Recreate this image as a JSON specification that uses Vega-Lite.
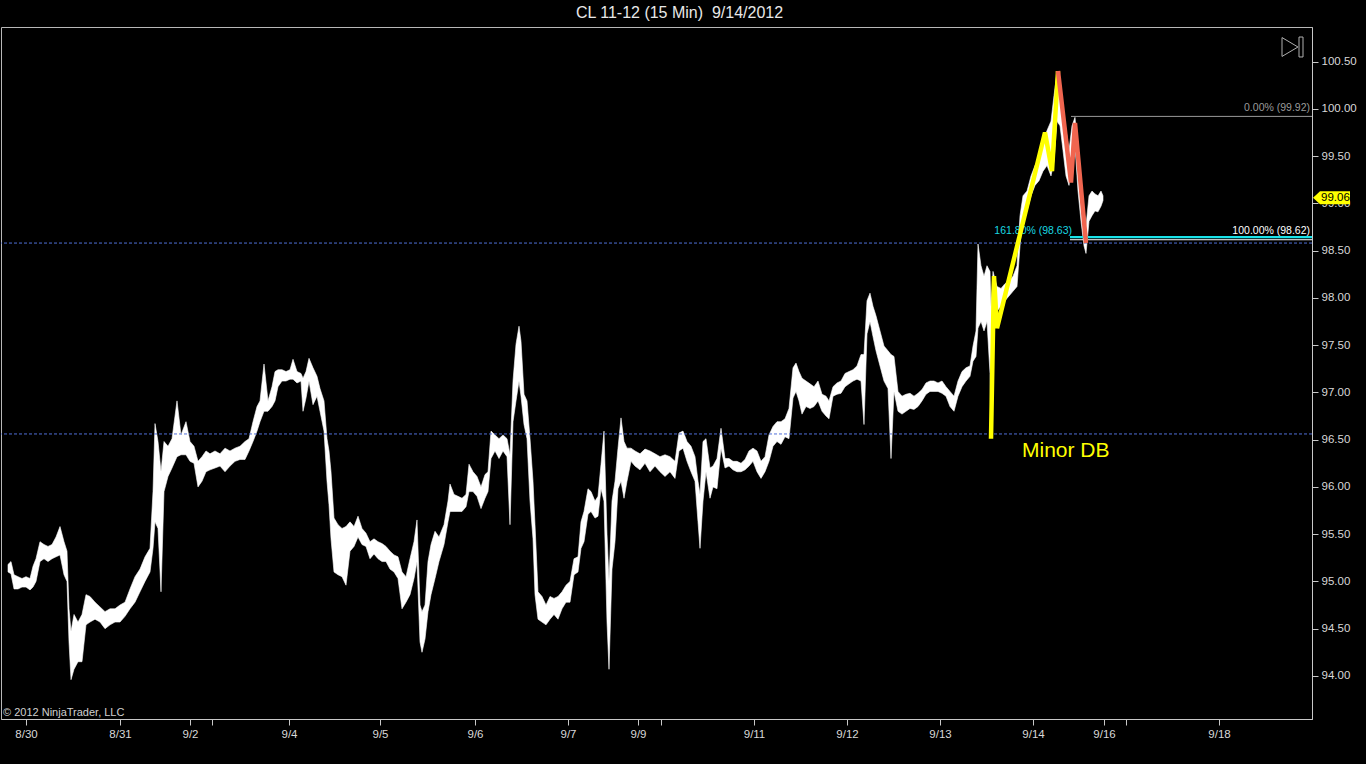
{
  "$schema": "https://vega.github.io/schema/vega-lite/v6.json",
  "autosize": {"type": "none"},
  "width": 1311,
  "height": 692,
  "padding": {"left": 1, "top": 27, "right": 54, "bottom": 45},
  "background": "#000000",
  "config": {
    "view": {"stroke": "#b8b8b8", "strokeWidth": 1},
    "font": "Liberation Sans"
  },
  "title": {
    "text": "CL 11-12 (15 Min)\u00a0 9/14/2012",
    "color": "#e8e8e8",
    "fontSize": 16,
    "font": "Liberation Sans",
    "fontWeight": "normal",
    "anchor": "middle",
    "frame": "group",
    "offset": 6,
    "dx": 23
  },
  "datasets": {
    "price": [
      {"i":8,"lo":95.10,"hi":95.18},{"i":11,"lo":95.08,"hi":95.21},{"i":14,"lo":94.92,"hi":95.07},{"i":18,"lo":94.92,"hi":95.05},
      {"i":22,"lo":94.94,"hi":95.03},{"i":26,"lo":94.94,"hi":95.05},{"i":30,"lo":94.91,"hi":95.03},{"i":33,"lo":94.94,"hi":95.16},
      {"i":36,"lo":95.00,"hi":95.24},{"i":40,"lo":95.21,"hi":95.42},{"i":44,"lo":95.24,"hi":95.39},{"i":48,"lo":95.21,"hi":95.37},
      {"i":52,"lo":95.24,"hi":95.39},{"i":56,"lo":95.26,"hi":95.47},{"i":60,"lo":95.28,"hi":95.58},{"i":64,"lo":95.07,"hi":95.42},
      {"i":67,"lo":95.00,"hi":95.32},{"i":69,"lo":94.36,"hi":94.71},{"i":71,"lo":93.96,"hi":94.47},{"i":74,"lo":94.07,"hi":94.65},
      {"i":78,"lo":94.15,"hi":94.57},{"i":82,"lo":94.15,"hi":94.65},{"i":86,"lo":94.54,"hi":94.86},{"i":90,"lo":94.57,"hi":94.84},
      {"i":95,"lo":94.60,"hi":94.78},{"i":100,"lo":94.57,"hi":94.73},{"i":105,"lo":94.50,"hi":94.68},{"i":110,"lo":94.54,"hi":94.71},
      {"i":115,"lo":94.57,"hi":94.71},{"i":120,"lo":94.57,"hi":94.75},{"i":125,"lo":94.63,"hi":94.78},{"i":130,"lo":94.71,"hi":94.92},
      {"i":135,"lo":94.78,"hi":95.05},{"i":140,"lo":94.89,"hi":95.13},{"i":145,"lo":95.00,"hi":95.26},{"i":150,"lo":95.10,"hi":95.35},
      {"i":153,"lo":95.35,"hi":95.95},{"i":155,"lo":95.63,"hi":96.67},{"i":158,"lo":95.56,"hi":96.48},{"i":161,"lo":94.89,"hi":96.16},
      {"i":164,"lo":95.95,"hi":96.48},{"i":168,"lo":96.11,"hi":96.43},{"i":172,"lo":96.20,"hi":96.51},{"i":177,"lo":96.32,"hi":96.91},
      {"i":181,"lo":96.34,"hi":96.55},{"i":186,"lo":96.34,"hi":96.69},{"i":190,"lo":96.27,"hi":96.48},{"i":194,"lo":96.25,"hi":96.43},
      {"i":198,"lo":96.00,"hi":96.27},{"i":202,"lo":96.06,"hi":96.32},{"i":206,"lo":96.16,"hi":96.38},{"i":210,"lo":96.18,"hi":96.35},
      {"i":215,"lo":96.20,"hi":96.38},{"i":220,"lo":96.22,"hi":96.35},{"i":225,"lo":96.16,"hi":96.41},{"i":230,"lo":96.22,"hi":96.38},
      {"i":235,"lo":96.27,"hi":96.41},{"i":240,"lo":96.29,"hi":96.43},{"i":245,"lo":96.29,"hi":96.48},{"i":249,"lo":96.38,"hi":96.51},
      {"i":253,"lo":96.48,"hi":96.69},{"i":257,"lo":96.59,"hi":96.85},{"i":260,"lo":96.69,"hi":96.91},{"i":264,"lo":96.80,"hi":97.30},
      {"i":268,"lo":96.80,"hi":96.91},{"i":272,"lo":96.85,"hi":97.06},{"i":275,"lo":96.91,"hi":97.22},{"i":278,"lo":97.06,"hi":97.24},
      {"i":282,"lo":97.12,"hi":97.24},{"i":286,"lo":97.12,"hi":97.22},{"i":290,"lo":97.14,"hi":97.24},{"i":293,"lo":97.14,"hi":97.35},
      {"i":297,"lo":97.10,"hi":97.22},{"i":301,"lo":97.12,"hi":97.20},{"i":303,"lo":96.80,"hi":97.15},{"i":306,"lo":96.94,"hi":97.22},
      {"i":309,"lo":97.12,"hi":97.36},{"i":313,"lo":96.87,"hi":97.26},{"i":317,"lo":96.96,"hi":97.17},{"i":320,"lo":96.80,"hi":97.04},
      {"i":324,"lo":96.59,"hi":96.91},{"i":327,"lo":96.06,"hi":96.51},{"i":329,"lo":95.81,"hi":96.38},{"i":331,"lo":95.45,"hi":96.16},
      {"i":334,"lo":95.10,"hi":95.67},{"i":338,"lo":95.07,"hi":95.60},{"i":342,"lo":95.05,"hi":95.56},{"i":346,"lo":94.96,"hi":95.58},
      {"i":350,"lo":95.32,"hi":95.63},{"i":354,"lo":95.37,"hi":95.58},{"i":358,"lo":95.47,"hi":95.69},{"i":362,"lo":95.39,"hi":95.56},
      {"i":366,"lo":95.37,"hi":95.51},{"i":370,"lo":95.24,"hi":95.42},{"i":374,"lo":95.29,"hi":95.45},{"i":378,"lo":95.24,"hi":95.42},
      {"i":382,"lo":95.21,"hi":95.40},{"i":386,"lo":95.21,"hi":95.37},{"i":390,"lo":95.13,"hi":95.32},{"i":394,"lo":95.10,"hi":95.28},
      {"i":398,"lo":95.03,"hi":95.26},{"i":402,"lo":94.71,"hi":95.10},{"i":406,"lo":94.78,"hi":95.05},{"i":410,"lo":94.86,"hi":95.24},
      {"i":414,"lo":95.03,"hi":95.42},{"i":417,"lo":95.21,"hi":95.65},{"i":420,"lo":94.36,"hi":94.75},{"i":422,"lo":94.25,"hi":94.68},
      {"i":425,"lo":94.39,"hi":94.75},{"i":428,"lo":94.68,"hi":95.21},{"i":431,"lo":94.86,"hi":95.39},{"i":435,"lo":95.03,"hi":95.53},
      {"i":439,"lo":95.21,"hi":95.47},{"i":444,"lo":95.39,"hi":95.60},{"i":448,"lo":95.63,"hi":95.85},{"i":450,"lo":95.74,"hi":96.03},
      {"i":454,"lo":95.74,"hi":95.92},{"i":458,"lo":95.74,"hi":95.90},{"i":462,"lo":95.74,"hi":95.88},{"i":466,"lo":95.79,"hi":95.92},
      {"i":469,"lo":95.95,"hi":96.24},{"i":473,"lo":95.95,"hi":96.16},{"i":477,"lo":95.90,"hi":96.11},{"i":481,"lo":95.77,"hi":96.00},
      {"i":485,"lo":95.88,"hi":96.13},{"i":488,"lo":95.95,"hi":96.16},{"i":491,"lo":96.30,"hi":96.59},{"i":495,"lo":96.38,"hi":96.55},
      {"i":499,"lo":96.30,"hi":96.51},{"i":503,"lo":96.38,"hi":96.55},{"i":507,"lo":96.32,"hi":96.51},{"i":510,"lo":95.60,"hi":96.34},
      {"i":513,"lo":96.69,"hi":97.12},{"i":516,"lo":96.91,"hi":97.51},{"i":519,"lo":97.12,"hi":97.70},{"i":521,"lo":96.96,"hi":97.54},
      {"i":524,"lo":96.66,"hi":96.98},{"i":527,"lo":96.51,"hi":96.91},{"i":530,"lo":95.85,"hi":96.51},{"i":533,"lo":95.45,"hi":96.06},
      {"i":535,"lo":94.86,"hi":95.60},{"i":538,"lo":94.60,"hi":94.89},{"i":542,"lo":94.57,"hi":94.84},{"i":546,"lo":94.54,"hi":94.75},
      {"i":550,"lo":94.60,"hi":94.84},{"i":554,"lo":94.65,"hi":94.82},{"i":558,"lo":94.60,"hi":94.84},{"i":562,"lo":94.71,"hi":94.89},
      {"i":566,"lo":94.78,"hi":94.96},{"i":570,"lo":94.78,"hi":95.00},{"i":574,"lo":95.07,"hi":95.24},{"i":578,"lo":95.10,"hi":95.26},
      {"i":581,"lo":95.35,"hi":95.63},{"i":584,"lo":95.42,"hi":95.74},{"i":588,"lo":95.71,"hi":95.98},{"i":591,"lo":95.74,"hi":95.95},
      {"i":595,"lo":95.67,"hi":95.85},{"i":598,"lo":95.69,"hi":95.90},{"i":601,"lo":95.98,"hi":96.24},{"i":604,"lo":95.85,"hi":96.59},
      {"i":607,"lo":94.57,"hi":95.50},{"i":609,"lo":94.07,"hi":95.00},{"i":612,"lo":95.13,"hi":95.85},{"i":615,"lo":95.42,"hi":96.06},
      {"i":618,"lo":95.98,"hi":96.41},{"i":621,"lo":96.06,"hi":96.73},{"i":624,"lo":95.88,"hi":96.48},{"i":627,"lo":96.06,"hi":96.41},
      {"i":631,"lo":96.27,"hi":96.41},{"i":635,"lo":96.22,"hi":96.38},{"i":640,"lo":96.18,"hi":96.35},{"i":645,"lo":96.25,"hi":96.40},
      {"i":650,"lo":96.16,"hi":96.38},{"i":655,"lo":96.22,"hi":96.35},{"i":660,"lo":96.16,"hi":96.32},{"i":665,"lo":96.11,"hi":96.34},
      {"i":670,"lo":96.16,"hi":96.32},{"i":675,"lo":96.09,"hi":96.27},{"i":679,"lo":96.38,"hi":96.57},{"i":683,"lo":96.41,"hi":96.59},
      {"i":687,"lo":96.27,"hi":96.48},{"i":691,"lo":96.16,"hi":96.43},{"i":695,"lo":96.06,"hi":96.32},{"i":698,"lo":95.63,"hi":96.06},
      {"i":700,"lo":95.35,"hi":95.92},{"i":703,"lo":95.85,"hi":96.48},{"i":706,"lo":96.16,"hi":96.51},{"i":710,"lo":95.88,"hi":96.20},
      {"i":713,"lo":96.00,"hi":96.22},{"i":717,"lo":95.98,"hi":96.30},{"i":721,"lo":96.41,"hi":96.62},{"i":725,"lo":96.20,"hi":96.30},
      {"i":729,"lo":96.22,"hi":96.30},{"i":733,"lo":96.18,"hi":96.27},{"i":737,"lo":96.16,"hi":96.27},{"i":741,"lo":96.16,"hi":96.25},
      {"i":745,"lo":96.18,"hi":96.29},{"i":749,"lo":96.22,"hi":96.38},{"i":753,"lo":96.27,"hi":96.41},{"i":757,"lo":96.16,"hi":96.38},
      {"i":761,"lo":96.09,"hi":96.27},{"i":765,"lo":96.16,"hi":96.32},{"i":769,"lo":96.27,"hi":96.55},{"i":773,"lo":96.43,"hi":96.64},
      {"i":777,"lo":96.48,"hi":96.69},{"i":781,"lo":96.45,"hi":96.69},{"i":785,"lo":96.53,"hi":96.72},{"i":789,"lo":96.51,"hi":96.83},
      {"i":793,"lo":96.94,"hi":97.26},{"i":796,"lo":97.01,"hi":97.31},{"i":799,"lo":96.91,"hi":97.22},{"i":802,"lo":96.77,"hi":97.15},
      {"i":806,"lo":96.85,"hi":97.12},{"i":810,"lo":96.83,"hi":97.09},{"i":814,"lo":96.85,"hi":97.06},{"i":818,"lo":96.91,"hi":97.12},
      {"i":822,"lo":96.80,"hi":96.98},{"i":826,"lo":96.75,"hi":96.96},{"i":829,"lo":96.72,"hi":96.91},{"i":833,"lo":96.96,"hi":97.06},
      {"i":837,"lo":96.98,"hi":97.10},{"i":841,"lo":96.99,"hi":97.12},{"i":845,"lo":97.06,"hi":97.20},{"i":849,"lo":97.09,"hi":97.22},
      {"i":853,"lo":97.12,"hi":97.24},{"i":857,"lo":97.14,"hi":97.28},{"i":861,"lo":97.12,"hi":97.40},{"i":864,"lo":96.66,"hi":97.40},
      {"i":867,"lo":97.62,"hi":97.97},{"i":870,"lo":97.75,"hi":98.05},{"i":873,"lo":97.59,"hi":97.91},{"i":876,"lo":97.44,"hi":97.81},
      {"i":880,"lo":97.28,"hi":97.65},{"i":884,"lo":97.12,"hi":97.49},{"i":888,"lo":97.04,"hi":97.44},{"i":891,"lo":96.30,"hi":97.40},
      {"i":894,"lo":97.01,"hi":97.38},{"i":898,"lo":96.80,"hi":97.01},{"i":902,"lo":96.77,"hi":96.96},{"i":906,"lo":96.80,"hi":96.98},
      {"i":910,"lo":96.83,"hi":96.99},{"i":914,"lo":96.82,"hi":96.96},{"i":918,"lo":96.85,"hi":96.99},{"i":922,"lo":96.91,"hi":97.03},
      {"i":926,"lo":96.98,"hi":97.10},{"i":930,"lo":97.01,"hi":97.12},{"i":934,"lo":97.01,"hi":97.12},{"i":938,"lo":97.01,"hi":97.10},
      {"i":942,"lo":96.99,"hi":97.12},{"i":946,"lo":96.96,"hi":97.06},{"i":950,"lo":96.85,"hi":97.01},{"i":954,"lo":96.80,"hi":96.96},
      {"i":958,"lo":96.96,"hi":97.12},{"i":962,"lo":97.06,"hi":97.22},{"i":966,"lo":97.12,"hi":97.26},{"i":970,"lo":97.17,"hi":97.28},
      {"i":973,"lo":97.33,"hi":97.49},{"i":976,"lo":97.38,"hi":97.65},{"i":978,"lo":97.68,"hi":98.57},{"i":981,"lo":97.75,"hi":98.34},
      {"i":984,"lo":97.65,"hi":98.23},{"i":987,"lo":97.75,"hi":98.34},{"i":990,"lo":97.20,"hi":98.28},{"i":991,"lo":96.52,"hi":97.90},
      {"i":993,"lo":97.75,"hi":98.28},{"i":997,"lo":97.86,"hi":98.12},{"i":1001,"lo":97.91,"hi":98.10},{"i":1005,"lo":97.97,"hi":98.15},
      {"i":1009,"lo":98.02,"hi":98.18},{"i":1013,"lo":98.07,"hi":98.23},{"i":1017,"lo":98.12,"hi":98.34},{"i":1020,"lo":98.55,"hi":98.87},
      {"i":1023,"lo":98.87,"hi":99.08},{"i":1027,"lo":98.92,"hi":99.13},{"i":1031,"lo":99.08,"hi":99.29},{"i":1035,"lo":99.19,"hi":99.40},
      {"i":1039,"lo":99.24,"hi":99.45},{"i":1043,"lo":99.34,"hi":99.66},{"i":1047,"lo":99.40,"hi":99.77},{"i":1051,"lo":99.29,"hi":99.87},
      {"i":1054,"lo":99.45,"hi":100.14},{"i":1057,"lo":99.87,"hi":100.38},{"i":1060,"lo":99.82,"hi":100.25},{"i":1063,"lo":99.56,"hi":99.99},
      {"i":1066,"lo":99.29,"hi":99.77},{"i":1069,"lo":99.19,"hi":99.56},{"i":1072,"lo":99.45,"hi":99.82},{"i":1075,"lo":99.61,"hi":99.91},
      {"i":1078,"lo":99.13,"hi":99.56},{"i":1081,"lo":98.81,"hi":99.24},{"i":1084,"lo":98.55,"hi":98.92},{"i":1086,"lo":98.47,"hi":98.76},
      {"i":1089,"lo":98.81,"hi":99.08},{"i":1092,"lo":98.87,"hi":99.13},{"i":1095,"lo":98.92,"hi":99.10},{"i":1098,"lo":98.91,"hi":99.08},
      {"i":1101,"lo":98.97,"hi":99.13},{"i":1103,"lo":99.03,"hi":99.08}
    ],
    "levels": [{"p": 98.58}, {"p": 96.56}],
    "yellowZig": [
      {"i": 991, "p": 96.51}, {"i": 994, "p": 98.23}, {"i": 997, "p": 97.68},
      {"i": 1045, "p": 99.75}, {"i": 1052, "p": 99.34}, {"i": 1058, "p": 100.40}
    ],
    "redZig": [
      {"i": 1058, "p": 100.40}, {"i": 1071, "p": 99.22}, {"i": 1075, "p": 99.85}, {"i": 1086, "p": 98.58}
    ]
  },
  "layer": [
    {
      "data": {"name": "price"},
      "mark": {"type": "area", "color": "#ffffff", "stroke": "#ffffff", "strokeWidth": 0.6, "interpolate": "linear"},
      "encoding": {
        "x": {
          "field": "i", "type": "quantitative",
          "scale": {"domain": [1, 1312], "nice": false, "zero": false},
          "axis": {
            "orient": "bottom", "title": null, "grid": false,
            "values": [26, 120, 190, 212, 289, 380, 475, 568, 638, 661, 754, 847, 940, 1033, 1104, 1126, 1219],
            "labelExpr": "datum.value==26?'8/30':datum.value==120?'8/31':datum.value==190?'9/2':datum.value==289?'9/4':datum.value==380?'9/5':datum.value==475?'9/6':datum.value==568?'9/7':datum.value==638?'9/9':datum.value==754?'9/11':datum.value==847?'9/12':datum.value==940?'9/13':datum.value==1033?'9/14':datum.value==1104?'9/16':datum.value==1219?'9/18':''",
            "domainColor": "#c8c8c8", "tickColor": "#c8c8c8", "tickSize": 6,
            "labelColor": "#d8d8d8", "labelFontSize": 11.5, "labelFont": "Liberation Sans",
            "labelPadding": 3, "labelFlush": false, "labelOverlap": false
          }
        },
        "y": {
          "field": "lo", "type": "quantitative",
          "scale": {"domain": [93.544, 100.866], "nice": false, "zero": false},
          "axis": {
            "orient": "right", "title": null, "grid": false,
            "values": [94, 94.5, 95, 95.5, 96, 96.5, 97, 97.5, 98, 98.5, 99, 99.5, 100, 100.5],
            "format": ".2f",
            "domainColor": "#c8c8c8", "tickColor": "#c8c8c8", "tickSize": 6,
            "labelColor": "#d8d8d8", "labelFontSize": 11.5, "labelFont": "Liberation Sans",
            "labelPadding": 3, "labelFlush": false, "labelOverlap": false
          }
        },
        "y2": {"field": "hi"}
      }
    },
    {
      "data": {"name": "levels"},
      "mark": {"type": "rule", "color": "#4f6fd8", "strokeWidth": 1, "strokeDash": [3, 2]},
      "encoding": {
        "y": {"field": "p", "type": "quantitative", "scale": {"domain": [93.544, 100.866], "nice": false, "zero": false}}
      }
    },
    {
      "data": {"values": [{"i0": 1071, "i1": 1312, "p": 99.92}]},
      "mark": {"type": "rule", "color": "#9a9a9a", "strokeWidth": 1},
      "encoding": {
        "x": {"field": "i0", "type": "quantitative", "scale": {"domain": [1, 1312], "nice": false, "zero": false}},
        "x2": {"field": "i1"},
        "y": {"field": "p", "type": "quantitative", "scale": {"domain": [93.544, 100.866], "nice": false, "zero": false}}
      }
    },
    {
      "data": {"values": [{"i0": 1070, "i1": 1312, "p": 98.615}]},
      "mark": {"type": "rule", "color": "#ffffff", "strokeWidth": 1},
      "encoding": {
        "x": {"field": "i0", "type": "quantitative", "scale": {"domain": [1, 1312], "nice": false, "zero": false}},
        "x2": {"field": "i1"},
        "y": {"field": "p", "type": "quantitative", "scale": {"domain": [93.544, 100.866], "nice": false, "zero": false}}
      }
    },
    {
      "data": {"values": [{"i0": 1070, "i1": 1312, "p": 98.643}]},
      "mark": {"type": "rule", "color": "#19e3ea", "strokeWidth": 2.2},
      "encoding": {
        "x": {"field": "i0", "type": "quantitative", "scale": {"domain": [1, 1312], "nice": false, "zero": false}},
        "x2": {"field": "i1"},
        "y": {"field": "p", "type": "quantitative", "scale": {"domain": [93.544, 100.866], "nice": false, "zero": false}}
      }
    },
    {
      "data": {"values": [{"i": 1310, "p": 99.92, "label": "0.00% (99.92)"}]},
      "mark": {"type": "text", "color": "#9a9a9a", "fontSize": 10.5, "font": "Liberation Sans", "align": "right", "baseline": "alphabetic", "dy": -5},
      "encoding": {
        "x": {"field": "i", "type": "quantitative", "scale": {"domain": [1, 1312], "nice": false, "zero": false}},
        "y": {"field": "p", "type": "quantitative", "scale": {"domain": [93.544, 100.866], "nice": false, "zero": false}},
        "text": {"field": "label"}
      }
    },
    {
      "data": {"values": [{"i": 1310, "p": 98.643, "label": "100.00% (98.62)"}]},
      "mark": {"type": "text", "color": "#ffffff", "fontSize": 10.5, "font": "Liberation Sans", "align": "right", "baseline": "alphabetic", "dy": -3},
      "encoding": {
        "x": {"field": "i", "type": "quantitative", "scale": {"domain": [1, 1312], "nice": false, "zero": false}},
        "y": {"field": "p", "type": "quantitative", "scale": {"domain": [93.544, 100.866], "nice": false, "zero": false}},
        "text": {"field": "label"}
      }
    },
    {
      "data": {"values": [{"i": 1072, "p": 98.643, "label": "161.80% (98.63)"}]},
      "mark": {"type": "text", "color": "#19d8e0", "fontSize": 10.5, "font": "Liberation Sans", "align": "right", "baseline": "alphabetic", "dy": -3},
      "encoding": {
        "x": {"field": "i", "type": "quantitative", "scale": {"domain": [1, 1312], "nice": false, "zero": false}},
        "y": {"field": "p", "type": "quantitative", "scale": {"domain": [93.544, 100.866], "nice": false, "zero": false}},
        "text": {"field": "label"}
      }
    },
    {
      "data": {"name": "yellowZig"},
      "mark": {"type": "line", "color": "#ffff00", "strokeWidth": 4.5, "strokeJoin": "miter", "strokeCap": "butt"},
      "encoding": {
        "x": {"field": "i", "type": "quantitative", "scale": {"domain": [1, 1312], "nice": false, "zero": false}},
        "y": {"field": "p", "type": "quantitative", "scale": {"domain": [93.544, 100.866], "nice": false, "zero": false}}
      }
    },
    {
      "data": {"name": "redZig"},
      "mark": {"type": "line", "color": "#f0654f", "strokeWidth": 4.5, "strokeJoin": "miter", "strokeCap": "butt"},
      "encoding": {
        "x": {"field": "i", "type": "quantitative", "scale": {"domain": [1, 1312], "nice": false, "zero": false}},
        "y": {"field": "p", "type": "quantitative", "scale": {"domain": [93.544, 100.866], "nice": false, "zero": false}}
      }
    },
    {
      "data": {"values": [{"i": 1022, "p": 96.32, "label": "Minor DB"}]},
      "mark": {"type": "text", "color": "#ffff00", "fontSize": 21, "font": "Liberation Sans", "align": "left", "baseline": "alphabetic"},
      "encoding": {
        "x": {"field": "i", "type": "quantitative", "scale": {"domain": [1, 1312], "nice": false, "zero": false}},
        "y": {"field": "p", "type": "quantitative", "scale": {"domain": [93.544, 100.866], "nice": false, "zero": false}},
        "text": {"field": "label"}
      }
    },
    {
      "data": {"values": [{"label": "© 2012 NinjaTrader, LLC"}]},
      "mark": {"type": "text", "color": "#d0d0d0", "fontSize": 11, "font": "Liberation Sans", "align": "left", "baseline": "bottom", "dx": 2, "dy": -1},
      "encoding": {
        "x": {"datum": 1, "type": "quantitative", "scale": {"domain": [1, 1312], "nice": false, "zero": false}},
        "y": {"datum": 93.544, "type": "quantitative", "scale": {"domain": [93.544, 100.866], "nice": false, "zero": false}},
        "text": {"field": "label"}
      }
    },
    {
      "data": {"values": [{"p": 99.06, "label": "99.06"}]},
      "mark": {"type": "point", "filled": true, "color": "#ffff00", "opacity": 1, "size": 1369, "shape": "M-1,0L-0.62,-0.35L1,-0.35L1,0.35L-0.62,0.35Z", "xOffset": 19.5, "clip": false},
      "encoding": {
        "x": {"datum": 1312, "type": "quantitative", "scale": {"domain": [1, 1312], "nice": false, "zero": false}},
        "y": {"field": "p", "type": "quantitative", "scale": {"domain": [93.544, 100.866], "nice": false, "zero": false}}
      }
    },
    {
      "data": {"values": [{"p": 99.06, "label": "99.06"}]},
      "mark": {"type": "text", "color": "#000000", "fontSize": 11.5, "font": "Liberation Sans", "align": "left", "baseline": "middle", "dx": 9},
      "encoding": {
        "x": {"datum": 1312, "type": "quantitative", "scale": {"domain": [1, 1312], "nice": false, "zero": false}},
        "y": {"field": "p", "type": "quantitative", "scale": {"domain": [93.544, 100.866], "nice": false, "zero": false}},
        "text": {"field": "label"}
      }
    },
    {
      "data": {"values": [{"k": "end"}]},
      "mark": {"type": "point", "filled": false, "stroke": "#b0b0b0", "strokeWidth": 1, "opacity": 1, "size": 441, "shape": "M-1,-0.9L0.52,0L-1,0.9ZM0.62,-0.95L1,-0.95L1,0.95L0.62,0.95Z", "xOffset": -19.5, "yOffset": 20},
      "encoding": {
        "x": {"datum": 1312, "type": "quantitative", "scale": {"domain": [1, 1312], "nice": false, "zero": false}},
        "y": {"datum": 100.866, "type": "quantitative", "scale": {"domain": [93.544, 100.866], "nice": false, "zero": false}}
      }
    }
  ]
}
